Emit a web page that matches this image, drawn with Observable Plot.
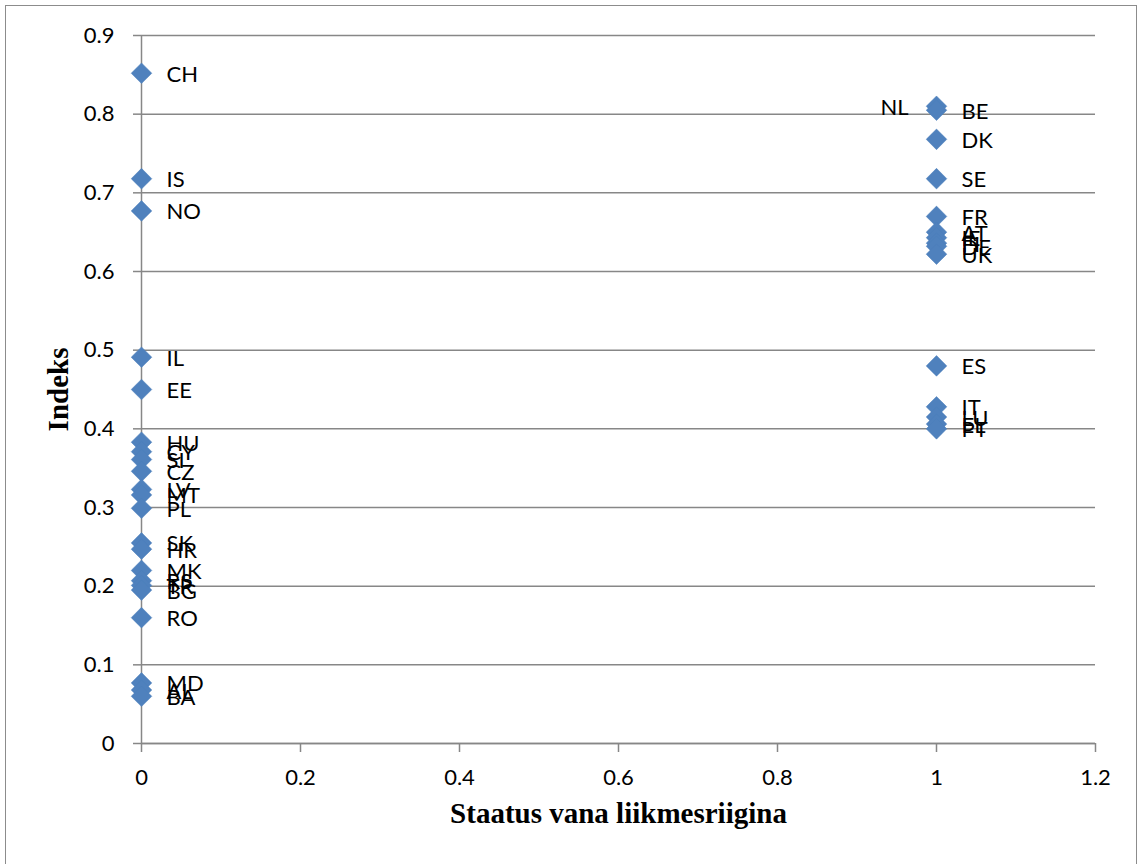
<!DOCTYPE html>
<html>
<head>
<meta charset="utf-8">
<script src="https://cdn.jsdelivr.net/npm/d3@7"></script>
<script src="https://cdn.jsdelivr.net/npm/@observablehq/plot@0.6"></script>
<style>
  html, body { margin: 0; padding: 0; background: #fff; overflow: hidden; }
  #wrap { position: relative; width: 1141px; height: 864px; }
  #border { position: absolute; left: 5px; top: 5px; width: 1132px; height: 880px; border: 1.5px solid #8c8c8c; box-sizing: border-box; pointer-events: none; }
  svg { display: block; }
</style>
</head>
<body>
<div id="wrap"><div id="border"></div></div>
<script>
// Country codes, "old member state" status (0/1) and index values
const countries = ["CH","IS","NO","IL","EE","HU","CY","SI","CZ","LV","MT","PL","SK","HR","MK","RS","TR","BG","RO","MD","AL","BA",
                   "NL","BE","DK","SE","FR","AT","IE","FI","DE","UK","ES","IT","LU","EL","PT"];
const status    = [0,0,0,0,0,0,0,0,0,0,0,0,0,0,0,0,0,0,0,0,0,0,
                   1,1,1,1,1,1,1,1,1,1,1,1,1,1,1];
const indexVals = [0.852,0.718,0.677,0.491,0.450,0.383,0.371,0.361,0.346,0.323,0.316,0.299,0.255,0.247,0.220,0.207,0.201,0.195,0.160,0.077,0.068,0.060,
                   0.810,0.805,0.768,0.718,0.670,0.650,0.643,0.636,0.632,0.622,0.480,0.428,0.415,0.406,0.400];
const xTicks = [0, 0.2, 0.4, 0.6, 0.8, 1, 1.2];
const yTicks = [0, 0.1, 0.2, 0.3, 0.4, 0.5, 0.6, 0.7, 0.8, 0.9];
const xTitle = "Staatus vana liikmesriigina";
const yTitle = "Indeks";

const data = countries.map((c, i) => ({code: c, x: status[i], y: indexVals[i]}));
const leftLabeled = ["NL"];

const gray = "#878787";
const fmt = d => String(+d.toFixed(1));

const chart = Plot.plot({
  width: 1141,
  height: 864,
  marginLeft: 141,
  marginRight: 46,
  marginTop: 35,
  marginBottom: 121,
  style: {fontFamily: "Lato, sans-serif", color: "#000", background: "transparent"},
  x: {domain: [0, 1.2]},
  y: {domain: [0, 0.9]},
  marks: [
    Plot.gridY(yTicks, {stroke: gray, strokeOpacity: 1, strokeWidth: 1.5}),
    Plot.ruleX([0], {stroke: gray, strokeWidth: 1.5}),
    Plot.ruleY([0], {stroke: gray, strokeWidth: 1.5}),
    Plot.axisY(yTicks, {tickSize: 8, tickPadding: 19, fontSize: 22, stroke: gray, strokeWidth: 1.5, tickFormat: fmt, label: null, color: "#000"}),
    Plot.axisX(xTicks, {tickSize: 9, tickPadding: 17, fontSize: 22, stroke: gray, strokeWidth: 1.5, tickFormat: fmt, label: null, color: "#000"}),
    Plot.dot(data, {x: "x", y: "y", symbol: "diamond2", r: 9.3, fill: "#4F81BD", stroke: "#4A7EBB", strokeWidth: 0.5}),
    Plot.text(data.filter(d => !leftLabeled.includes(d.code)), {x: "x", y: "y", text: "code", dx: 25, dy: 1.5, textAnchor: "start", fontSize: 22, fill: "#000"}),
    Plot.text(data.filter(d => leftLabeled.includes(d.code)), {x: "x", y: "y", text: "code", dx: -28, dy: 1.5, textAnchor: "end", fontSize: 22, fill: "#000"}),
    Plot.text([yTitle], {frameAnchor: "left", textAnchor: "middle", dx: -83, rotate: -90, fontFamily: "Liberation Serif, serif", fontWeight: "bold", fontSize: 29, fill: "#000"}),
    Plot.text([xTitle], {frameAnchor: "bottom", dy: 79, fontFamily: "Liberation Serif, serif", fontWeight: "bold", fontSize: 29, fill: "#000"})
  ]
});
document.getElementById("wrap").prepend(chart);
</script>
</body>
</html>
